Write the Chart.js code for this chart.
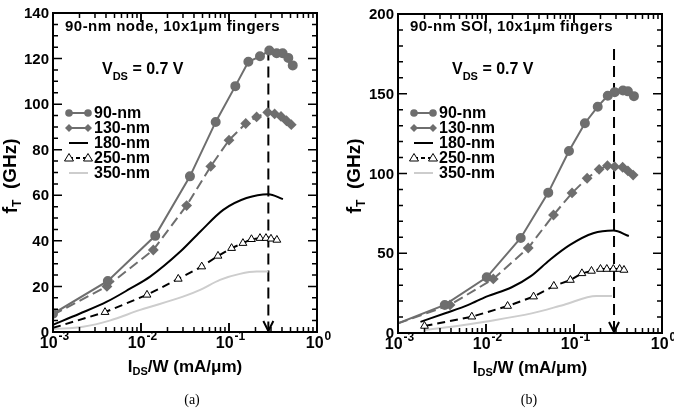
<!DOCTYPE html>
<html>
<head>
<meta charset="utf-8">
<script src="https://cdn.jsdelivr.net/npm/chart.js"></script>
<style>
  body { margin: 0; background: #fff; width: 674px; height: 410px; overflow: hidden; }
  .panel { position: absolute; top: 0; width: 337px; height: 410px; }
</style>
</head>
<body>
<div class="panel" style="left:0"><canvas id="chartA" width="337" height="410"></canvas></div>
<div class="panel" style="left:337px"><canvas id="chartB" width="337" height="410"></canvas></div>
<script>
// series names (legend order)
const seriesNames = ["90-nm", "130-nm", "180-nm", "250-nm", "350-nm"];
const xTickDecades = [0.001, 0.01, 0.1, 1];
const xTickExps = ["-3", "-2", "-1", "0"];

// (a) 90-nm node bulk
const a90x = [0.001, 0.0042, 0.0145, 0.036, 0.0706, 0.118, 0.166, 0.225, 0.287, 0.348, 0.407, 0.472, 0.53];
const a90y = [8, 22.4, 42.2, 68.3, 92.2, 107.9, 118.6, 121, 123.5, 122.3, 122.3, 120.3, 117];
const a130x = [0.001, 0.0041, 0.0138, 0.033, 0.062, 0.1, 0.155, 0.206, 0.275, 0.33, 0.39, 0.45, 0.51];
const a130y = [7.5, 20, 36, 55.5, 72.7, 84.2, 91.5, 94.4, 96.4, 95.7, 94.6, 92.7, 91];
const a180x = [0.001, 0.002, 0.0041, 0.0075, 0.0127, 0.028, 0.047, 0.086, 0.158, 0.28, 0.41];
const a180y = [3.2, 8, 13.3, 19, 24.3, 35.3, 44, 53.6, 58.8, 60.5, 58.3];
const a250x = [0.001, 0.0039, 0.0117, 0.0265, 0.049, 0.075, 0.107, 0.144, 0.18, 0.225, 0.263, 0.3, 0.35];
const a250y = [1.8, 8.7, 16.3, 23.3, 28.7, 33.4, 36.8, 39, 40.7, 41.2, 41.2, 40.9, 40.4];
const a350x = [0.001, 0.0022, 0.0044, 0.0098, 0.03, 0.047, 0.079, 0.133, 0.206, 0.28];
const a350y = [1.2, 2.3, 5, 9.7, 15.5, 18.5, 22.9, 25.5, 26.5, 26.5];
const aArrowX = 0.28, aArrowTop = 124;
const aYTicks = [0, 20, 40, 60, 80, 100, 120, 140];

// (b) 90-nm SOI
const b90x = [0.001, 0.0034, 0.0102, 0.0248, 0.051, 0.0877, 0.133, 0.186, 0.242, 0.29, 0.36, 0.41, 0.48];
const b90y = [6, 17.6, 34.9, 59.6, 88, 114.1, 131.5, 141.9, 148.8, 151, 152, 151.5, 148.5];
const b130x = [0.001, 0.0039, 0.0121, 0.0302, 0.0585, 0.095, 0.141, 0.193, 0.24, 0.29, 0.357, 0.41, 0.47];
const b130y = [6, 17.6, 33.9, 53.3, 74, 87.8, 97, 102.6, 104.9, 104.3, 103.9, 101.6, 99];
const b180x = [0.0018, 0.0035, 0.0063, 0.0101, 0.0196, 0.032, 0.053, 0.09, 0.165, 0.28, 0.42];
const b180y = [7, 12.5, 17.6, 22.8, 28.7, 35.5, 45.8, 55.2, 62.5, 64.2, 60.8];
const b250x = [0.002, 0.0069, 0.0176, 0.0347, 0.059, 0.091, 0.123, 0.158, 0.2, 0.236, 0.28, 0.33, 0.37];
const b250y = [4.4, 10.2, 16.9, 22.8, 29.5, 33.2, 37.4, 38.9, 40.1, 40.1, 40.1, 40.1, 39.5];
const b350x = [0.002, 0.0045, 0.0097, 0.033, 0.076, 0.18, 0.27];
const b350y = [1.9, 4.3, 7.1, 12.3, 17.6, 23.2, 23.2];
const bArrowX = 0.285, bArrowTop = 178;
const bYTicks = [0, 50, 100, 150, 200];

const GRAY = "#6e6e6e";
const LIGHT = "#cdcdcd";
const SANS = "'Liberation Sans', Arial, Helvetica, sans-serif";

function pts(xs, ys) {
  return xs.map((x, i) => ({ x: x, y: ys[i] }));
}

function makeDatasets(s, arrowX, arrowTop, first90, first250) {
  return [
    { label: seriesNames[0], data: pts(s[0][0], s[0][1]), borderColor: GRAY, backgroundColor: GRAY,
      borderWidth: 2, pointStyle: "circle", pointRadius: s[0][0].map((_, i) => i == 0 ? first90 : 4), tension: 0 },
    { label: seriesNames[1], data: pts(s[1][0], s[1][1]), borderColor: GRAY, backgroundColor: GRAY,
      borderWidth: 2, borderDash: [10, 5], pointStyle: "rectRot", pointRadius: s[1][0].map((_, i) => i == 0 ? 0 : 4), tension: 0 },
    { label: seriesNames[2], data: pts(s[2][0], s[2][1]), borderColor: "#000", borderWidth: 2,
      pointRadius: 0, cubicInterpolationMode: "monotone" },
    { label: seriesNames[3], data: pts(s[3][0], s[3][1]), borderColor: "#000", backgroundColor: "#fff",
      borderWidth: 2, borderDash: [8, 5], pointStyle: "triangle", pointBorderWidth: 1,
      pointRadius: s[3][0].map((_, i) => i == 0 ? first250 : 4.5), tension: 0 },
    { label: seriesNames[4], data: pts(s[4][0], s[4][1]), borderColor: LIGHT, borderWidth: 2,
      pointRadius: 0, cubicInterpolationMode: "monotone" },
    { label: "arrow", data: [{ x: arrowX, y: arrowTop }, { x: arrowX, y: 0 }], borderColor: "#000",
      borderWidth: 2, borderDash: [11, 6], pointRadius: 0 }
  ];
}

function drawMarker(ctx, style, x, y) {
  ctx.save();
  if (style == "circle") {
    ctx.fillStyle = GRAY;
    ctx.beginPath(); ctx.arc(x, y, 3.8, 0, Math.PI * 2); ctx.fill();
  } else if (style == "diamond") {
    ctx.fillStyle = GRAY;
    ctx.beginPath(); ctx.moveTo(x, y - 4); ctx.lineTo(x + 4, y); ctx.lineTo(x, y + 4); ctx.lineTo(x - 4, y); ctx.closePath(); ctx.fill();
  } else if (style == "triangle") {
    ctx.fillStyle = "#fff"; ctx.strokeStyle = "#000"; ctx.lineWidth = 1;
    ctx.beginPath(); ctx.moveTo(x, y - 4.5); ctx.lineTo(x + 4.5, y + 3); ctx.lineTo(x - 4.5, y + 3); ctx.closePath(); ctx.fill(); ctx.stroke();
  }
  ctx.restore();
}

const framePlugin = {
  id: "frame",
  afterDraw(chart) {
    const o = chart.options.plugins.frame;
    const ctx = chart.ctx;
    const a = chart.chartArea;
    const xs = chart.scales.x, ys = chart.scales.y;
    ctx.save();
    ctx.strokeStyle = "#000";
    ctx.lineWidth = 2;
    ctx.strokeRect(a.left, a.top, a.right - a.left, a.bottom - a.top);

    // y ticks (inside, left and right)
    ctx.lineWidth = 1.5;
    for (let v = 0; v <= o.yMax + 0.001; v += o.yMinor) {
      const py = ys.getPixelForValue(v);
      const major = o.yTicks.includes(v);
      const len = major ? 9 : 5;
      ctx.beginPath();
      ctx.moveTo(a.left, py); ctx.lineTo(a.left + len, py);
      ctx.moveTo(a.right, py); ctx.lineTo(a.right - len, py);
      ctx.stroke();
    }
    // x ticks (log, inside, bottom and top)
    for (let d = 0; d < 3; d++) {
      for (let m = 1; m <= 10; m++) {
        const v = xTickDecades[d] * m;
        const px = xs.getPixelForValue(v);
        const major = (m == 1 || m == 10);
        const len = major ? 9 : 5;
        ctx.beginPath();
        ctx.moveTo(px, a.bottom); ctx.lineTo(px, a.bottom - len);
        ctx.moveTo(px, a.top); ctx.lineTo(px, a.top + len);
        ctx.stroke();
      }
    }

    // arrowhead
    const ax = xs.getPixelForValue(o.arrowX);
    const ay = ys.getPixelForValue(0);
    ctx.lineWidth = 2;
    ctx.beginPath();
    ctx.moveTo(ax - 5, ay - 11); ctx.lineTo(ax, ay - 1); ctx.lineTo(ax + 5, ay - 11);
    ctx.stroke();

    ctx.fillStyle = "#000";
    // y tick labels
    ctx.font = "bold 15px " + SANS;
    ctx.textAlign = "right"; ctx.textBaseline = "middle";
    o.yTicks.forEach(v => ctx.fillText(String(v), a.left - 4, ys.getPixelForValue(v) + 1));

    // x tick labels 10^n
    ctx.textAlign = "left";
    xTickDecades.forEach((v, i) => {
      const px = xs.getPixelForValue(v);
      ctx.font = "bold 16px " + SANS;
      const w1 = ctx.measureText("10").width;
      ctx.font = "bold 12px " + SANS;
      const w2 = ctx.measureText(xTickExps[i]).width;
      const x0 = px - (w1 + w2) / 2 + 1;
      ctx.font = "bold 16px " + SANS;
      ctx.fillText("10", x0, a.bottom + 12);
      ctx.font = "bold 12px " + SANS;
      ctx.fillText(xTickExps[i], x0 + w1 + 1, a.bottom + 5);
    });

    // x axis title: I_DS/W (mA/µm)
    const cx = (a.left + a.right) / 2;
    ctx.font = "bold 17px " + SANS;
    const t1 = "I", t3 = "/W (mA/\u03bcm)";
    const wt1 = ctx.measureText(t1).width, wt3 = ctx.measureText(t3).width;
    ctx.font = "bold 11px " + SANS;
    const wt2 = ctx.measureText("DS").width;
    let tx = cx - (wt1 + wt2 + wt3) / 2;
    const tyB = a.bottom + 35;
    ctx.font = "bold 17px " + SANS;
    ctx.fillText(t1, tx, tyB);
    ctx.font = "bold 11px " + SANS;
    ctx.fillText("DS", tx + wt1, tyB + 5);
    ctx.font = "bold 17px " + SANS;
    ctx.fillText(t3, tx + wt1 + wt2, tyB);

    // y axis title: f_T (GHz), rotated
    ctx.save();
    ctx.translate(o.yTitleX, o.yTitleY);
    ctx.rotate(-Math.PI / 2);
    ctx.font = "bold 20px " + SANS;
    const f1 = ctx.measureText("f").width;
    ctx.font = "bold 12px " + SANS;
    const f2 = ctx.measureText("T").width;
    ctx.font = "bold 19px " + SANS;
    const f3 = ctx.measureText("  (GHz)").width;
    let fx = -(f1 + f2 + f3) / 2;
    ctx.font = "bold 20px " + SANS;
    ctx.fillText("f", fx, 0);
    ctx.font = "bold 12px " + SANS;
    ctx.fillText("T", fx + f1, 7);
    ctx.font = "bold 19px " + SANS;
    ctx.fillText("  (GHz)", fx + f1 + f2, 0);
    ctx.restore();

    // in-plot title, spread to the reference width
    ctx.save();
    ctx.font = "bold 15px " + SANS;
    const tw = ctx.measureText(o.title).width;
    ctx.letterSpacing = ((o.titleWidth - tw) / o.title.length) + "px";
    ctx.fillText(o.title, a.left + o.titleDx, 27);
    ctx.restore();

    // V_DS = 0.7 V
    const vx = a.left + o.vdsDx;
    ctx.font = "bold 16px " + SANS;
    ctx.fillText("V", vx, 70);
    const wv = ctx.measureText("V").width;
    ctx.font = "bold 11px " + SANS;
    ctx.fillText("DS", vx + wv, 77);
    const wds = ctx.measureText("DS").width;
    ctx.font = "bold 16px " + SANS;
    ctx.fillText(" = 0.7 V", vx + wv + wds, 70);

    // legend
    const lx0 = a.left + 16, lx1 = a.left + 35, ltx = a.left + 41;
    const styles = [
      { color: GRAY, dash: [], mark: "circle" },
      { color: GRAY, dash: [], mark: "diamond" },
      { color: "#000", dash: [], mark: null },
      { color: "#000", dash: [4, 3], mark: "triangle" },
      { color: LIGHT, dash: [], mark: null }
    ];
    styles.forEach((s, i) => {
      const ly = 113 + i * 15;
      ctx.save();
      ctx.strokeStyle = s.color; ctx.lineWidth = 2; ctx.setLineDash(s.dash);
      ctx.beginPath(); ctx.moveTo(lx0, ly); ctx.lineTo(lx1, ly); ctx.stroke();
      ctx.restore();
      if (s.mark) { drawMarker(ctx, s.mark, lx0, ly); drawMarker(ctx, s.mark, lx1, ly); }
      ctx.font = "bold 16px " + SANS;
      ctx.fillStyle = "#000";
      ctx.textBaseline = "middle";
      ctx.fillText(seriesNames[i], ltx, ly + 1);
    });

    // caption
    ctx.font = "14px 'Liberation Serif', 'Times New Roman', serif";
    ctx.textAlign = "center"; ctx.textBaseline = "middle";
    ctx.fillText(o.caption, 192, 400);
    ctx.restore();
  }
};

function makeChart(id, datasets, yMax, padding, frameOpts) {
  return new Chart(document.getElementById(id), {
    type: "line",
    data: { datasets: datasets },
    options: {
      responsive: false,
      animation: false,
      layout: { padding: padding },
      scales: {
        x: { type: "logarithmic", min: 0.001, max: 1, display: false },
        y: { type: "linear", min: 0, max: yMax, display: false }
      },
      plugins: { legend: { display: false }, tooltip: { enabled: false }, frame: frameOpts },
      elements: { line: { fill: false } }
    },
    plugins: [framePlugin]
  });
}

makeChart("chartA",
  makeDatasets([[a90x, a90y], [a130x, a130y], [a180x, a180y], [a250x, a250y], [a350x, a350y]], aArrowX, aArrowTop, 4, 0),
  140, { left: 53, top: 13, right: 20, bottom: 78 },
  { yTicks: aYTicks, yMinor: 5, yMax: 140, arrowX: aArrowX, caption: "(a)",
    title: "90-nm node, 10x1\u03bcm fingers", titleWidth: 215, titleDx: 12, vdsDx: 49, yTitleX: 11, yTitleY: 176 });

makeChart("chartB",
  makeDatasets([[b90x, b90y], [b130x, b130y], [b180x, b180y], [b250x, b250y], [b350x, b350y]], bArrowX, bArrowTop, 0, 4.5),
  200, { left: 61, top: 14, right: 12, bottom: 77 },
  { yTicks: bYTicks, yMinor: 10, yMax: 200, arrowX: bArrowX, caption: "(b)",
    title: "90-nm SOI, 10x1\u03bcm fingers", titleWidth: 203, titleDx: 12, vdsDx: 54, yTitleX: 18, yTitleY: 176 });
</script>
</body>
</html>
